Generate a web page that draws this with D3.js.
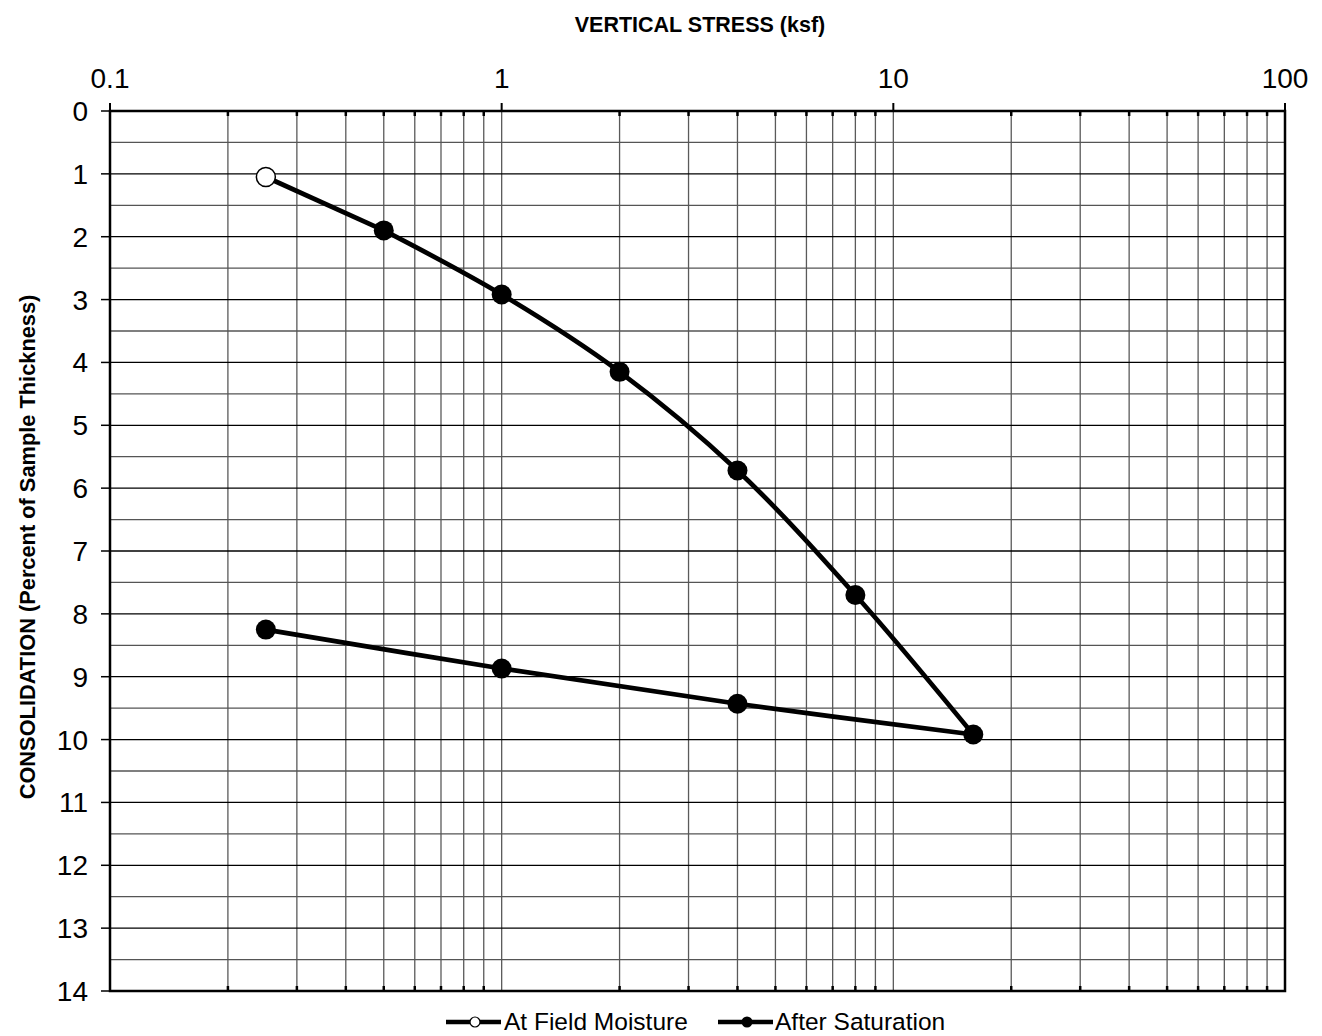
<!DOCTYPE html>
<html><head><meta charset="utf-8">
<script src="https://cdn.jsdelivr.net/npm/d3@7"></script>
<style>body{margin:0;background:#fff}svg{display:block}text{font-family:"Liberation Sans",Arial,sans-serif;fill:#000}</style>
</head><body><svg id="c" width="1322" height="1036"></svg>
<script>
const xTickLabels = [0.1, 1, 10, 100];
const yTickLabels = [0,1,2,3,4,5,6,7,8,9,10,11,12,13,14];
const fieldStress = [0.25, 0.5];
const fieldConsol = [1.05, 1.9];
const loadStress = [0.5, 1, 2, 4, 8, 16];
const loadConsol = [1.9, 2.92, 4.15, 5.72, 7.7, 9.92];
const reboundStress = [16, 4, 1, 0.25];
const reboundConsol = [9.92, 9.43, 8.87, 8.25];

const svg = d3.select("#c");
const L=110, R=1285, T=111, B=991;
const x = d3.scaleLog().domain([0.1,100]).range([L,R]);
const y = d3.scaleLinear().domain([0,14]).range([T,B]);

const minors=[];
for (let d of [0.1,1,10]) for (let k=2;k<=9;k++) minors.push(d*k);
const g = svg.append("g");
g.selectAll(".vg").data(minors.concat([1,10])).enter().append("line")
 .attr("x1",d=>x(d)).attr("x2",d=>x(d)).attr("y1",T).attr("y2",B)
 .attr("stroke","#5a5a5a").attr("stroke-width",1.3);
const halves=d3.range(0.5,14,0.5);
g.selectAll(".hg").data(halves).enter().append("line")
 .attr("x1",L).attr("x2",R).attr("y1",d=>y(d)).attr("y2",d=>y(d))
 .attr("stroke",d=>Number.isInteger(d)?"#000":"#555").attr("stroke-width",1.3);
g.selectAll(".tt").data(minors).enter().append("line")
 .attr("x1",d=>x(d)).attr("x2",d=>x(d)).attr("y1",T).attr("y2",T+5)
 .attr("stroke","#000").attr("stroke-width",2.5);
g.selectAll(".bt").data(minors).enter().append("line")
 .attr("x1",d=>x(d)).attr("x2",d=>x(d)).attr("y1",B-5).attr("y2",B)
 .attr("stroke","#000").attr("stroke-width",2.5);
g.selectAll(".xt").data(xTickLabels).enter().append("line")
 .attr("x1",d=>x(d)).attr("x2",d=>x(d)).attr("y1",T-8).attr("y2",T)
 .attr("stroke","#000").attr("stroke-width",2);
g.selectAll(".yt").data(yTickLabels).enter().append("line")
 .attr("x1",L-9).attr("x2",L).attr("y1",d=>y(d)).attr("y2",d=>y(d))
 .attr("stroke","#000").attr("stroke-width",1.5);
svg.append("rect").attr("x",L).attr("y",T).attr("width",R-L).attr("height",B-T)
 .attr("fill","none").attr("stroke","#000").attr("stroke-width",2.5);

svg.selectAll(".xl").data(xTickLabels).enter().append("text")
 .attr("x",d=>x(d)).attr("y",88).attr("text-anchor","middle").attr("font-size",28)
 .text(d=>String(d));
svg.selectAll(".yl").data(yTickLabels).enter().append("text")
 .attr("x",88).attr("y",d=>y(d)+10).attr("text-anchor","end").attr("font-size",28)
 .text(d=>String(d));
svg.append("text").attr("x",700).attr("y",32).attr("text-anchor","middle")
 .attr("font-size",21.5).attr("font-weight","bold").text("VERTICAL STRESS (ksf)");
svg.append("text").attr("transform","translate(35,547) rotate(-90)").attr("text-anchor","middle")
 .attr("font-size",21.8).attr("font-weight","bold").text("CONSOLIDATION (Percent of Sample Thickness)");

const line = d3.line().x(d=>x(d[0])).y(d=>y(d[1]));
const field = fieldStress.map((s,i)=>[s,fieldConsol[i]]);
const load = loadStress.map((s,i)=>[s,loadConsol[i]]);
const reb = reboundStress.map((s,i)=>[s,reboundConsol[i]]);
const ln = svg.append("g").attr("fill","none").attr("stroke","#000").attr("stroke-width",4.7).attr("stroke-linejoin","round");
ln.append("path").attr("d",line(field));
ln.append("path").attr("d",line.curve(d3.curveCatmullRom)(load));
ln.append("path").attr("d",line.curve(d3.curveCatmullRom)(reb));

svg.selectAll(".fm").data(field.slice(0,1)).enter().append("circle")
 .attr("cx",d=>x(d[0])).attr("cy",d=>y(d[1])).attr("r",9.5)
 .attr("fill","#fff").attr("stroke","#000").attr("stroke-width",1.5);
svg.selectAll(".sm").data(load.concat(reb.slice(1))).enter().append("circle")
 .attr("cx",d=>x(d[0])).attr("cy",d=>y(d[1])).attr("r",10).attr("fill","#000");

const lg = svg.append("g");
lg.append("line").attr("x1",446).attr("x2",501).attr("y1",1022).attr("y2",1022).attr("stroke","#000").attr("stroke-width",4.7);
lg.append("circle").attr("cx",475).attr("cy",1022).attr("r",5).attr("fill","#fff").attr("stroke","#000").attr("stroke-width",1.2);
lg.append("text").attr("x",504).attr("y",1030).attr("font-size",24.5).text("At Field Moisture");
lg.append("line").attr("x1",718).attr("x2",773).attr("y1",1022).attr("y2",1022).attr("stroke","#000").attr("stroke-width",4.7);
lg.append("circle").attr("cx",747).attr("cy",1022).attr("r",5.5).attr("fill","#000");
lg.append("text").attr("x",775).attr("y",1030).attr("font-size",24.5).text("After Saturation");
</script></body></html>
